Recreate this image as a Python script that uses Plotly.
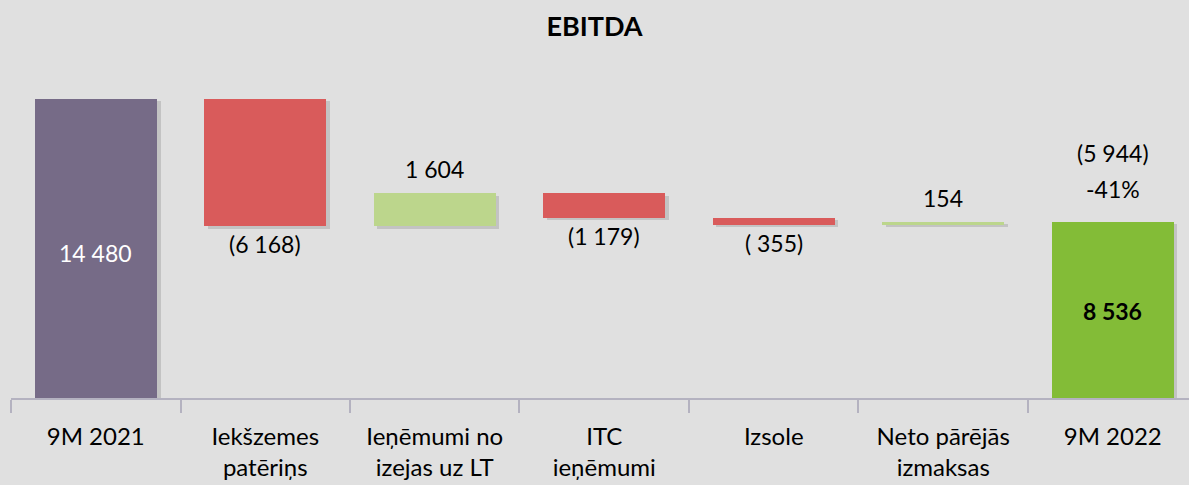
import plotly.graph_objects as go

categories = ["9M 2021", "Iekšzemes<br>patēriņs", "Ieņēmumi no<br>izejas uz LT", "ITC<br>ieņēmumi",
              "Izsole", "Neto pārējās<br>izmaksas", "9M 2022"]
start_value = 14480
changes = [-6168, 1604, -1179, -355, 154]
end_value = 8536
change_total_label = "(5 944)"
change_pct_label = "-41%"

FONT = "Lato, 'Open Sans', sans-serif"
BG = "#e0e0e0"
PURPLE = "#766b87"
RED = "#d95b5b"
LIGHTGREEN = "#bcd68c"
GREEN = "#83bc37"

xs = list(range(len(categories)))
bases, heights, colors = [0], [start_value], [PURPLE]
running = start_value
for c in changes:
    if c < 0:
        bases.append(running + c)
        heights.append(-c)
        colors.append(RED)
    else:
        bases.append(running)
        heights.append(c)
        colors.append(LIGHTGREEN)
    running += c
bases.append(0)
heights.append(end_value)
colors.append(GREEN)

fig = go.Figure()
fig.add_trace(go.Bar(x=[x + 0.022 for x in xs], y=heights, base=[b - 110 for b in bases], width=0.72,
                     marker=dict(color="rgba(0,0,0,0.13)", line=dict(width=0)), hoverinfo="skip",
                     showlegend=False))
fig.add_trace(go.Bar(x=xs, y=heights, base=bases, width=0.72,
                     marker=dict(color=colors, line=dict(width=0)), showlegend=False))

def fmt(v):
    s = f"{abs(v):,}".replace(",", " ")
    return f"({s})" if v < 0 else s

SZ = 23
ann = []
ann.append(dict(x=0, y=start_value / 2, text=fmt(start_value), showarrow=False,
                font=dict(color="white", size=SZ, family=FONT), yshift=-4))
for i, c in enumerate(changes, start=1):
    if c < 0:
        txt = fmt(c) if c != -355 else "( 355)"
        ann.append(dict(x=i, y=bases[i], text=txt, showarrow=False, yanchor="top",
                        font=dict(color="black", size=SZ, family=FONT), yshift=-2))
    else:
        ann.append(dict(x=i, y=bases[i] + heights[i], text=fmt(c), showarrow=False, yanchor="bottom",
                        font=dict(color="black", size=SZ, family=FONT), yshift=8))
ann.append(dict(x=6, y=end_value / 2, text="<b>" + fmt(end_value) + "</b>", showarrow=False,
                font=dict(color="black", size=SZ, family=FONT), yshift=-1))
ann.append(dict(x=6, y=end_value, text=change_pct_label, showarrow=False, yanchor="middle",
                font=dict(color="black", size=SZ, family=FONT), yshift=33))
ann.append(dict(x=6, y=end_value, text=change_total_label, showarrow=False, yanchor="middle",
                font=dict(color="black", size=SZ, family=FONT), yshift=69))

fig.update_layout(
    width=1189, height=485,
    paper_bgcolor=BG, plot_bgcolor=BG,
    margin=dict(l=11, r=0, t=60, b=87),
    barmode="overlay", bargap=0,
    title=dict(text="<b>EBITDA</b>", x=0.5, xanchor="center", y=0.945, yanchor="middle",
               font=dict(size=27, family=FONT, color="black")),
    annotations=ann,
    xaxis=dict(range=[-0.5, 6.45], tickmode="array", tickvals=xs, ticktext=categories,
               ticks="", showgrid=False, zeroline=False, showline=True, linecolor="#b4b2c0",
               linewidth=1.5, tickfont=dict(size=24, family=FONT, color="black"),
               ticklabelstandoff=16,
               minor=dict(tick0=-0.5, dtick=1, ticks="outside", ticklen=13, tickcolor="#b4b2c0",
                          tickwidth=1.5, showgrid=False)),
    yaxis=dict(range=[0, 16369], visible=False, showgrid=False, zeroline=False),
    font=dict(family=FONT),
)
fig.write_html("out.html", config={"displayModeBar": False},
               post_script="document.body.style.margin='0';document.body.style.background='#e0e0e0';")
